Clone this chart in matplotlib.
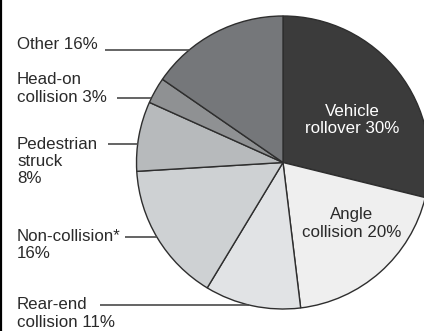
import matplotlib
matplotlib.use("Agg")
import matplotlib.pyplot as plt
import numpy as np

plt.rcParams["font.family"] = ["Liberation Sans", "DejaVu Sans"]

# clockwise from 12 o'clock; shares sum to 104 in the source, pie normalises
categories = [
    "Vehicle rollover", "Angle collision", "Rear-end collision",
    "Non-collision*", "Pedestrian struck", "Head-on collision", "Other",
]
shares = [30, 20, 11, 16, 8, 3, 16]
colors = ["#3b3b3b", "#efefef", "#e1e3e5", "#ced1d3", "#b7babc", "#8f9193", "#75777a"]

inner_labels = ["Vehicle\nrollover 30%", "Angle\ncollision 20%"]
outer_labels = [
    "Other 16%",
    "Head-on\ncollision 3%",
    "Pedestrian\nstruck\n8%",
    "Non-collision*\n16%",
    "Rear-end\ncollision 11%",
]

W, H = 424, 331
CX, CY, R = 283, H - 162.5, 146.5

fig = plt.figure(figsize=(W / 100, H / 100), dpi=100)
ax = fig.add_axes([0, 0, 1, 1])

ax.pie(shares, colors=colors, startangle=90, counterclock=False,
       center=(CX, CY), radius=R, frame=True,
       wedgeprops=dict(edgecolor="#2e2e2e", linewidth=1.0))
ax.set_xlim(0, W)
ax.set_ylim(0, H)
ax.set_aspect("equal")
ax.axis("off")

txt = dict(fontsize=12.2, linespacing=1.2)
ax.text(352, H - 120, inner_labels[0], color="white", ha="center", va="center", **txt)
ax.text(352, H - 223.5, inner_labels[1], color="#2a2a2a", ha="center", va="center", **txt)

# (block centre y, leader y, leader start x) in pixels from the top
outer_pos = [(44.5, 49.5, 105), (88.5, 98, 117), (161.5, 144, 108),
             (245, 237, 125), (313.5, 305, 100)]
for label, (ty, ly, lx) in zip(outer_labels, outer_pos):
    ax.text(17, H - ty, label, color="#2a2a2a", ha="left", va="center", **txt)
    y = H - ly
    x_end = CX - np.sqrt(R ** 2 - (y - CY) ** 2)
    ax.plot([lx, x_end], [y, y], color="#4a4a4a", lw=1.2, solid_capstyle="butt")

# dark rule down the left edge of the scan
ax.plot([0.8, 0.8], [0, H], color="black", lw=1.6)

fig.savefig("out.png", dpi=100)
